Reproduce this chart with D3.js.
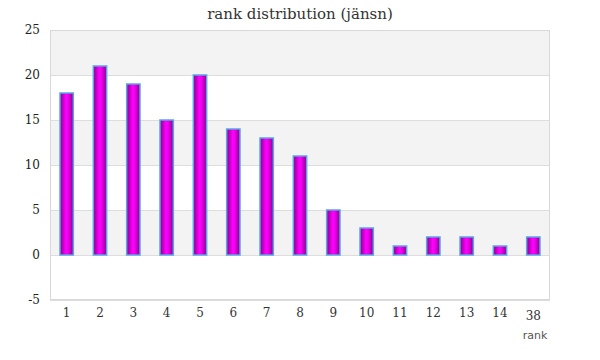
<!DOCTYPE html>
<html><head><meta charset="utf-8">
<script src="https://cdn.jsdelivr.net/npm/d3@7"></script>
<style>body{margin:0;background:#fff}svg{display:block}</style>
</head><body>
<svg id="c" width="600" height="360"></svg>
<script>
const categories = ["1","2","3","4","5","6","7","8","9","10","11","12","13","14","38"];
const values = [18,21,19,15,20,14,13,11,5,3,1,2,2,1,2];
const yTicks = [-5,0,5,10,15,20,25];
const title = "rank distribution (jänsn)";
const xTitle = "rank";

const svg = d3.select("#c");
const m = {l:50, r:50, t:30, b:60};
const W = 600, H = 360;
const serif = "'DejaVu Serif', serif";
const x = d3.scaleBand().domain(categories).range([m.l, W-m.r]).paddingInner(0.6).paddingOuter(0.3);
const y = d3.scaleLinear().domain([-5,25]).range([H-m.b, m.t]);

const defs = svg.append("defs");
const g = defs.append("linearGradient").attr("id","bg").attr("x1","0").attr("x2","1").attr("y1","0").attr("y2","0");
g.append("stop").attr("offset","0%").attr("stop-color","#8a008a");
g.append("stop").attr("offset","45%").attr("stop-color","#ff00ff");
g.append("stop").attr("offset","60%").attr("stop-color","#f000f0");
g.append("stop").attr("offset","100%").attr("stop-color","#8a008a");

// bands
for (let i=0;i<yTicks.length-1;i++){
  const lo=yTicks[i], hi=yTicks[i+1];
  svg.append("rect").attr("x",m.l).attr("width",W-m.l-m.r)
    .attr("y",y(hi)).attr("height",y(lo)-y(hi))
    .attr("fill", (i%2===1)?"#f3f3f3":"#ffffff");
}
// gridlines
svg.append("g").selectAll("line").data(yTicks).join("line")
  .attr("x1",m.l).attr("x2",W-m.r).attr("y1",d=>y(d)+0.5).attr("y2",d=>y(d)+0.5)
  .attr("stroke","#dddddd");
// border
svg.append("rect").attr("x",m.l+0.5).attr("y",m.t+0.5).attr("width",W-m.l-m.r-1).attr("height",H-m.t-m.b-1)
  .attr("fill","none").attr("stroke","#d8d8d8");

// bars
svg.append("g").selectAll("rect").data(values).join("rect")
  .attr("x",(d,i)=>x(categories[i]))
  .attr("width",x.bandwidth())
  .attr("y",d=>y(d))
  .attr("height",d=>y(0)-y(d))
  .attr("fill","url(#bg)")
  .attr("stroke","#5aa5e6").attr("stroke-width",1.5);

// y axis labels
const ya = svg.append("g").attr("transform",`translate(${m.l-10},0)`)
  .call(d3.axisLeft(y).tickValues(yTicks).tickFormat(d=>String(d)).tickSize(0).tickPadding(0));
ya.select(".domain").remove();
ya.selectAll("text").attr("font-family",serif).attr("font-size",12).attr("fill","#222");

// x axis labels
const xa = svg.append("g").attr("transform",`translate(0,${H-m.b+8})`)
  .call(d3.axisBottom(x).tickSize(0).tickPadding(0));
xa.select(".domain").remove();
xa.selectAll("text").attr("font-family",serif).attr("font-size",12).attr("fill","#333")
  .attr("dy", d => d==="38" ? "1.0em" : "0.71em");

svg.append("text").attr("x",535).attr("y",339).attr("text-anchor","middle")
  .attr("font-family","'DejaVu Sans', sans-serif").attr("font-size",11).attr("fill","#555").text(xTitle);

svg.append("text").attr("x",W/2).attr("y",19).attr("text-anchor","middle")
  .attr("font-family",serif).attr("font-size",15).attr("fill","#333").text(title);
</script>
</body></html>
